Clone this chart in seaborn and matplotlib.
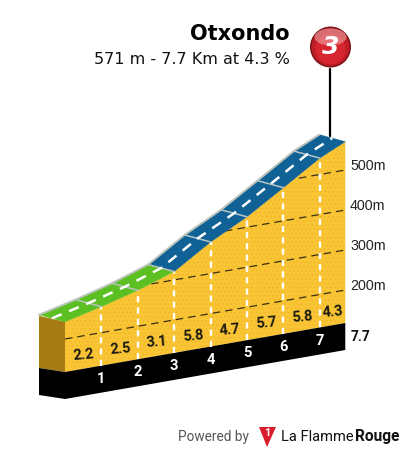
import numpy as np
import pandas as pd
import seaborn as sns
import matplotlib
matplotlib.use("Agg")
import matplotlib.pyplot as plt
from matplotlib.patches import Polygon, Circle, Ellipse
from matplotlib.transforms import Affine2D

km = [0, 1, 2, 3, 4, 5, 6, 7, 7.7]
elevation = [243, 265, 290, 321, 379, 426, 483, 541, 571]
grades = [2.2, 2.5, 3.1, 5.8, 4.7, 5.7, 5.8, 4.3]
segment_colors = ["#5cbf22", "#5cbf22", "#5cbf22", "#0f6196", "#0f6196", "#0f6196", "#0f6196", "#0f6196"]
km_labels = ["1", "2", "3", "4", "5", "6", "7"]
elev_ticks = [200, 300, 400, 500]
title = "Otxondo"
subtitle = "571 m - 7.7 Km at 4.3 %"
total_label = "7.7"

W, H = 405, 453
PX_KM, PX_M = 36.4, 0.4
TILT = 6.36 / PX_M          # metres of apparent rise per km (perspective)
BASE = 117.5                # elevation at the foot of the block
BAND = 67.5                 # thickness of black band in metres
DEPTH_KM, DEPTH_M = 26 / PX_KM, 7 / PX_M

sns.set_theme(style="white")
plt.rcParams["font.family"] = ["Roboto", "DejaVu Sans"]
plt.rcParams["hatch.linewidth"] = 0.35

fig = plt.figure(figsize=(W / 100, H / 100), dpi=100)
ax = fig.add_axes([0, 0, 1, 1])
ax.set_xlim(-65 / PX_KM, (W - 65) / PX_KM)
ax.set_ylim(BASE - (H - 372) / PX_M, BASE + 372 / PX_M)
ax.axis("off")
pix = Affine2D().scale(1, -1).translate(0, H)


def v(k, e):
    return np.asarray(e, float) + TILT * np.asarray(k, float)


k = np.array(km, float)
e = np.array(elevation, float)
base = np.full_like(k, BASE)
front = np.c_[k, v(k, e)]
foot = np.c_[k, v(k, base)]
under = np.c_[k, v(k, base) - BAND]

# left side faces
x0 = k[0] - DEPTH_KM
side_top = v(k[0], e[0]) + 6 / PX_M
side_low = BASE + 4 / PX_M
ax.add_patch(Polygon([(x0, side_top), front[0], foot[0], (x0, side_low)], fc="#a87c14", ec="none", zorder=2))
ax.add_patch(Polygon([(x0, side_low), foot[0], under[0], (x0, side_low - BAND)], fc="black", ec="none", zorder=2))

# terrain and band
terrain = Polygon(np.r_[front, foot[::-1]], fc="#f9c534", ec="#efae28", lw=0, hatch="....", zorder=2)
ax.add_patch(terrain)
ax.add_patch(Polygon(np.r_[foot, under[::-1]], fc="black", ec="none", zorder=3))

# elevation dashed lines
for t in elev_ticks:
    sns.lineplot(x=[k[0], k[-1]], y=v([k[0], k[-1]], [t, t]), ax=ax, color="#3a3012", lw=0.9,
                 linestyle=(0, (6, 4)), estimator=None, errorbar=None, legend=False, zorder=4)
    ax.lines[-1].set_clip_path(terrain)
    ax.text(350, 290 - (t - 200) * PX_M - 4.5, f"{t}m", transform=pix, ha="left", va="center",
            fontsize=10.3, family=["Liberation Sans", "DejaVu Sans"], color="#222222", zorder=6)

# white km lines
for i in range(1, 8):
    sns.lineplot(x=[k[i], k[i]], y=[foot[i, 1], front[i, 1]], ax=ax, color="white", lw=1.7,
                 linestyle=(0, (2.6, 2.2)), estimator=None, errorbar=None, legend=False, zorder=4)

# road
dx, dy = -DEPTH_KM, DEPTH_M
for i, col in enumerate(segment_colors):
    a, b = front[i], front[i + 1]
    ax.add_patch(Polygon([a, b, (b[0] + dx, b[1] + dy), (a[0] + dx, a[1] + dy)], fc=col, ec=col, lw=0.3, zorder=5))
for i in range(1, 8):
    sns.lineplot(x=[k[i], k[i] + dx], y=[front[i, 1], front[i, 1] + dy], ax=ax, color="#b8c4c4", lw=1.1,
                 estimator=None, errorbar=None, legend=False, zorder=6)
sns.lineplot(x=k + dx, y=front[:, 1] + dy, ax=ax, color="#bcc4bc", lw=1.4, sort=False,
             estimator=None, errorbar=None, legend=False, zorder=6)
sns.lineplot(x=k + dx / 2, y=front[:, 1] + dy / 2, ax=ax, color="white", lw=1.8, sort=False,
             linestyle=(0, (4.2, 3.2)), estimator=None, errorbar=None, legend=False, zorder=7)

# grade labels
for i, g in enumerate(grades):
    mid = (k[i] + k[i + 1]) / 2
    ax.text(mid + 0.02, v(mid, BASE + 34), f"{g}", ha="center", va="center", fontsize=10.5, fontweight="bold",
            color="#1a1a10", rotation=5, zorder=6)

# km labels
for i, lab in enumerate(km_labels, start=1):
    ax.text(k[i], v(k[i], BASE - 33), lab, ha="center", va="center", fontsize=10.5, fontweight="bold",
            color="white", zorder=6)
ax.text(351, 337, total_label, transform=pix, ha="left", va="center", fontsize=9.8, fontweight="bold",
        color="#111111")

# titles
ax.text(289.5, 34, title, transform=pix, ha="right", va="center", fontsize=15, fontweight="bold",
        family=["DejaVu Sans"], color="black")
ax.text(289.5, 60, subtitle, transform=pix, ha="right", va="center", fontsize=11.5, family=["DejaVu Sans"],
        color="#111111")

# stem and badge
sns.lineplot(x=[k[-1] - 0.42, k[-1] - 0.42], y=[front[-1, 1] + 14, front[-1, 1] + 14 + 67 / PX_M], ax=ax,
             color="black", lw=1.6, estimator=None, errorbar=None, legend=False, zorder=1)
ax.add_patch(Circle((330.5, 47), 20.5, transform=pix, fc="#7d1418", ec="none", zorder=8))
ax.add_patch(Circle((330.5, 47), 19, transform=pix, fc="#bf1d28", ec="none", zorder=8))
ax.add_patch(Circle((330.5, 49), 15, transform=pix, fc="#d82630", ec="none", zorder=8))
ax.add_patch(Ellipse((330.5, 37), 32, 17, transform=pix, fc="#f2b0b0", ec="none", alpha=0.55, zorder=8))
ax.text(330.5, 47, "3", transform=pix, ha="center", va="center", fontsize=18, fontweight="bold", fontstyle="italic",
        family=["DejaVu Sans"], color="white", zorder=9)

# footer
ax.text(178, 441, "Powered by", transform=pix, ha="left", va="baseline", fontsize=9.8, color="#555555")
ax.add_patch(Polygon([(259, 427), (276, 427), (267, 447)], transform=pix, fc="#d81e2c", ec="none"))
ax.text(267.5, 433.5, "1", transform=pix, ha="center", va="center", fontsize=8, fontweight="bold", color="white")
ax.text(281, 441, "La Flamme", transform=pix, ha="left", va="baseline", fontsize=10.5, color="#111111")
ax.text(355, 441, "Rouge", transform=pix, ha="left", va="baseline", fontsize=11.2, fontweight="bold", color="#111111")

fig.savefig("out.png", dpi=100, facecolor="white")
